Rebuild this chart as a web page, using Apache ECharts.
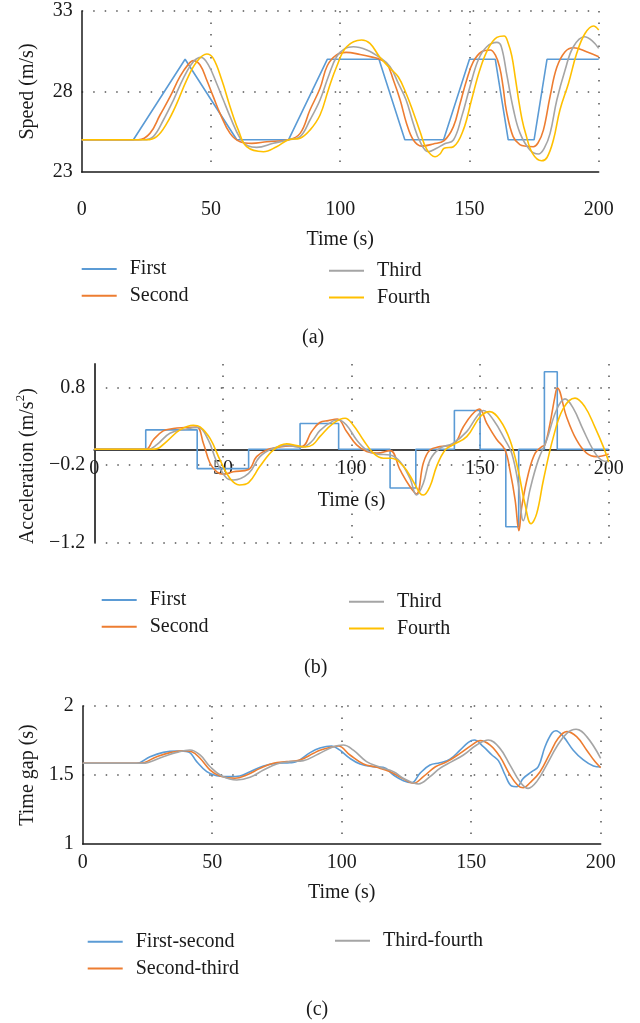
<!DOCTYPE html>
<html>
<head>
<meta charset="utf-8">
<script src="https://cdn.jsdelivr.net/npm/echarts@6/dist/echarts.min.js"></script>
<style>
html,body{margin:0;padding:0;background:#fff;}
#chart{width:640px;height:1023px;}
</style>
</head>
<body>
<div id="chart"></div>
<script>
// ---------- data ----------
const seriesNames = ['First', 'Second', 'Third', 'Fourth'];
const gapNames = ['First-second', 'Second-third', 'Third-fourth'];
const panelLabels = ['(a)', '(b)', '(c)'];
const timeTicks = [0, 50, 100, 150, 200];
const speedTicks = [23, 28, 33];
const accTicks = [-1.2, -0.2, 0.8];
const gapTicks = [1, 1.5, 2];

const speedFirst = [[0,25],[20,25],[40,30],[60,25],[80,25],[95,30],[115,30],[125,25],[140,25],[150,30],[160,30],[165,25],[175,25],[180,30],[200,30]];
const speedSecond = [[0,25],[21.9,25],[26.4,25.4],[30.3,26.54],[34.2,27.68],[38,28.92],[41.3,29.7],[43.2,29.92],[45.8,29.65],[48.4,28.7],[50.9,27.68],[53.5,26.64],[57.4,25.4],[61.3,24.88],[65.8,24.78],[71.6,24.88],[80,25],[84.5,25.4],[88.3,26.85],[92.2,28.2],[95,29.6],[98.6,30.27],[102.3,30.43],[107.7,30.3],[112.8,30.12],[115.2,30.0],[118,29.75],[120.6,28.7],[123.2,27.47],[125.7,26.0],[128.3,24.99],[131.5,24.61],[136,24.74],[140.2,24.95],[143.8,25.82],[146.4,27.27],[148.9,28.7],[151.5,29.85],[154.7,30.47],[158,30.58],[160,30.27],[161.7,29.5],[163,28.3],[164.3,26.8],[166.9,25.2],[169.5,24.7],[172,24.6],[174.7,24.57],[176.5,24.8],[178.6,25.6],[181.2,27.7],[183.8,29.5],[187,30.47],[190.2,30.72],[195.3,30.47],[200,30.16]];
const speedThird = [[0,25],[23.9,25],[27.7,25.2],[31.6,26.23],[35.5,27.47],[39.3,28.82],[43.2,29.85],[46.2,30.12],[49,29.65],[52.2,28.5],[54.8,27.47],[57.4,26.44],[61.3,25.09],[64.5,24.61],[67.7,24.53],[74.1,24.78],[80,25],[84.5,25.2],[88.3,26.23],[92.2,27.47],[95.4,28.92],[98.6,30.16],[101.9,30.68],[105.1,30.78],[110.3,30.58],[115.2,30.12],[119.3,29.54],[122.5,28.5],[125.5,27.47],[128.3,26.0],[130.9,24.88],[134.1,24.26],[137.3,24.47],[140.2,24.74],[143.8,24.99],[147,26.44],[150.2,28.3],[153.4,29.96],[156.7,30.78],[160.6,31.05],[162.3,30.8],[164.5,29.0],[167,26.9],[169.6,25.4],[173.4,24.37],[176.7,24.12],[179,24.5],[181.2,25.4],[183.8,27.47],[187,29.34],[190.2,30.78],[194.5,31.4],[197.5,31.15],[200,30.68]];
const speedFourth = [[0,25],[25.1,25],[29,25.2],[32.9,26.02],[36.8,27.26],[40.6,28.71],[44.5,29.85],[48.4,30.33],[50.9,30.06],[54.2,28.71],[57.4,27.06],[60.6,25.6],[63.8,24.57],[70.3,24.26],[75.4,24.57],[80,25],[84.5,25.1],[88.3,25.6],[92.2,26.54],[95.4,28.1],[98.6,29.54],[102.5,30.78],[108.3,31.2],[111.5,30.99],[115.2,30.16],[119.3,29.44],[122.5,28.9],[125.7,27.8],[128.3,26.7],[130.9,25.5],[133.5,24.4],[136.7,23.95],[138.6,24.12],[140.2,24.47],[143.8,24.57],[147.6,25.6],[150.8,27.47],[154,29.34],[157.3,30.68],[160.6,31.36],[163.4,31.45],[165,31.0],[166.4,30.2],[167.7,28.9],[169,27.5],[170.3,26.3],[171.7,25.4],[174.4,24.16],[177.9,23.7],[180,23.9],[182.5,25.0],[185,26.85],[188.3,28.5],[191.5,30.37],[194.7,31.6],[198,32.07],[200,31.82]];

const accFirst = [[0,0],[20,0],[20,0.25],[40,0.25],[40,-0.25],[60,-0.25],[60,0],[80,0],[80,0.333],[95,0.333],[95,0],[115,0],[115,-0.5],[125,-0.5],[125,0],[140,0],[140,0.5],[150,0.5],[150,0],[160,0],[160,-1],[165,-1],[165,0],[175,0],[175,1],[180,1],[180,0],[200,0]];
const accSecond = [[0,0],[20,0],[22.9,0.12],[26.8,0.237],[30.7,0.267],[35,0.28],[39.8,0.288],[42.4,0.077],[45,-0.18],[47.6,-0.29],[50.2,-0.32],[54,-0.29],[60,-0.26],[63.1,-0.095],[67,-0.01],[70.9,0.02],[76.1,0.043],[80.6,0.034],[84.5,0.228],[87.7,0.345],[91,0.37],[94.5,0.39],[98.1,0.228],[102,0.056],[105.9,-0.03],[109.8,-0.05],[115,-0.017],[118.9,-0.267],[122.7,-0.48],[125.3,-0.576],[127.9,-0.18],[130.5,-0.01],[134.4,0.034],[139.4,0.056],[143.5,0.29],[146.7,0.443],[149.7,0.52],[152.6,0.335],[156.4,0.13],[159.7,-0.01],[161.6,-0.27],[163.6,-0.65],[165.1,-1.05],[166.2,-0.74],[168.8,-0.31],[171.4,-0.05],[174,0.034],[175.2,0.056],[177.2,0.335],[179.1,0.68],[180,0.79],[183.6,0.42],[187.5,0.12],[191.4,-0.05],[195.2,-0.095],[200,-0.06]];
const accThird = [[0,0],[21,0],[24.2,0.056],[29.4,0.206],[35.9,0.262],[40.4,0.28],[44.3,0.12],[47.6,-0.16],[51.5,-0.374],[54,-0.396],[60,-0.31],[64.4,-0.095],[69.6,0.013],[74.8,0.05],[80.6,0.026],[84.5,0.1],[87.7,0.24],[92.9,0.366],[94.9,0.378],[98.1,0.31],[102,0.12],[105.9,-0.01],[109.8,-0.06],[115,-0.073],[118.9,-0.16],[122.7,-0.374],[125.3,-0.59],[127.9,-0.44],[130.5,-0.14],[134.4,0.013],[139.4,0.077],[144.8,0.228],[148.7,0.42],[151.3,0.5],[155.2,0.378],[159.7,0.12],[162.3,-0.05],[164.8,-0.44],[166.8,-0.92],[169.4,-0.52],[172.6,-0.14],[175.9,0.12],[179.7,0.507],[183,0.65],[186.2,0.53],[190.1,0.25],[194,-0.01],[197.2,-0.14],[200,-0.16]];
const accFourth = [[0,0],[22,0],[24.2,0.005],[28.1,0.1],[33.3,0.25],[38.5,0.31],[41.1,0.29],[45,0.14],[48.9,-0.14],[52.7,-0.374],[56.4,-0.46],[60,-0.43],[64.4,-0.22],[69.6,-0.01],[74.8,0.069],[78.7,0.047],[82,0.03],[85,0.06],[87.7,0.163],[92.9,0.335],[97.5,0.40],[100.7,0.31],[104.6,0.12],[108.5,-0.05],[112.4,-0.116],[115.6,-0.116],[120.2,-0.22],[124.1,-0.42],[126.7,-0.57],[128,-0.59],[130.5,-0.48],[133.1,-0.22],[136.4,-0.01],[139.4,0.056],[144.8,0.163],[150,0.42],[153.8,0.486],[157.7,0.378],[161.6,0.12],[164.8,-0.27],[167.4,-0.70],[169.8,-0.96],[172,-0.83],[174.6,-0.40],[178.5,0.16],[182.4,0.53],[186.9,0.66],[190.7,0.55],[194.6,0.29],[197.9,0.034],[200,-0.16]];

const gapFirstSecond = [[0,1.585],[20.8,1.585],[26,1.633],[31.1,1.664],[36.3,1.674],[40.8,1.667],[44,1.597],[47.9,1.524],[51.7,1.495],[56.9,1.488],[60.7,1.493],[64.6,1.524],[69.8,1.565],[74.9,1.585],[80,1.589],[82.6,1.597],[87.8,1.662],[91.6,1.695],[96.1,1.71],[99.3,1.68],[103.2,1.62],[107.1,1.58],[112.1,1.56],[116,1.556],[120,1.5],[123.8,1.459],[127,1.444],[130.2,1.512],[134.1,1.572],[137.9,1.589],[141.8,1.614],[145.7,1.68],[148.9,1.737],[151.2,1.754],[154.7,1.705],[158,1.645],[160.5,1.604],[163.1,1.5],[165.6,1.42],[167.6,1.415],[170.1,1.476],[173.4,1.524],[175.9,1.56],[178.5,1.705],[181.1,1.802],[182.7,1.821],[185.6,1.778],[189.4,1.68],[193.3,1.609],[197.2,1.565],[200,1.558]];
const gapSecondThird = [[0,1.585],[22,1.585],[28.6,1.633],[33.7,1.662],[38.9,1.676],[42.1,1.669],[45.3,1.621],[49.2,1.536],[53,1.493],[58.8,1.476],[63.3,1.5],[68.5,1.548],[73.6,1.585],[78.8,1.597],[83.9,1.609],[89.1,1.657],[91.6,1.68],[96.8,1.705],[98.7,1.71],[103.2,1.645],[108.4,1.58],[113.5,1.556],[118.7,1.524],[123.4,1.476],[127.7,1.44],[131.5,1.488],[136.2,1.56],[140.7,1.597],[145.7,1.657],[150.2,1.717],[153.4,1.749],[157.3,1.717],[161.1,1.633],[165,1.5],[168.2,1.42],[170.1,1.408],[172.7,1.444],[176.6,1.524],[180.4,1.657],[183.6,1.766],[186.9,1.814],[190.7,1.778],[194.6,1.68],[197.8,1.597],[200,1.553]];
const gapThirdFourth = [[0,1.585],[23,1.585],[31.1,1.633],[36.3,1.664],[41.4,1.681],[45.3,1.645],[49.2,1.56],[53.7,1.493],[59.5,1.464],[64.6,1.483],[69.8,1.536],[74.9,1.58],[80,1.597],[85.2,1.604],[91,1.652],[96.8,1.705],[100.6,1.717],[104.5,1.68],[109.6,1.597],[114.8,1.556],[120,1.524],[124.5,1.469],[129.6,1.435],[134.1,1.488],[137.9,1.548],[142.5,1.597],[147,1.645],[152.1,1.717],[156.6,1.754],[161.1,1.693],[165,1.572],[168.8,1.452],[172,1.403],[175.3,1.452],[179.1,1.572],[183,1.705],[186.9,1.802],[190.5,1.831],[194.6,1.778],[200,1.621]];

// ---------- styles ----------
const FONT = 'Liberation Serif';
const TXT = '#1a1a1a';
const COLORS = ['#5B9BD5', '#ED7D31', '#A5A5A5', '#FFC000'];
const dotted = { type: [1.5, 10], color: '#555', width: 1.5 };
const fmt = v => String(v).replace('-', '\u2212');

const grids = [
  { left: 81.7, top: 11, width: 517, height: 161 },
  { left: 94.3, top: 364, width: 514.4, height: 178.3 },
  { left: 82.7, top: 706, width: 518, height: 138 }
];

function xAxis(gi, labelMargin, nameGap, axisColor, axisWidth) {
  return {
    type: 'value', gridIndex: gi, min: 0, max: 200,
    axisLine: { show: true, lineStyle: { color: axisColor, width: axisWidth } },
    axisTick: { show: false, customValues: timeTicks },
    axisLabel: { customValues: timeTicks, margin: labelMargin, fontFamily: FONT, fontSize: 20, color: TXT },
    splitLine: { show: true, showMinLine: false, lineStyle: dotted },
    name: 'Time (s)', nameLocation: 'middle', nameGap: nameGap,
    nameTextStyle: { fontFamily: FONT, fontSize: 20, color: TXT }
  };
}
function yAxis(gi, min, max, ticks, name, nameGap, extra) {
  const ax = {
    type: 'value', gridIndex: gi, min: min, max: max,
    axisLine: { show: true, lineStyle: { color: '#1a1a1a', width: 1.5 } },
    axisTick: { show: false, customValues: ticks },
    axisLabel: { customValues: ticks, margin: 9, fontFamily: FONT, fontSize: 20, color: TXT, formatter: fmt },
    splitLine: { show: true, showMinLine: false, lineStyle: dotted },
    name: name, nameLocation: 'middle', nameGap: nameGap,
    nameTextStyle: { fontFamily: FONT, fontSize: 20, color: TXT }
  };
  return Object.assign(ax, extra || {});
}

const xAxes = [
  xAxis(0, 28, 58, '#1a1a1a', 1.5),
  xAxis(1, -84, -52, '#444', 2),
  xAxis(2, 9, 39, '#1a1a1a', 1.5)
];
const yAxes = [
  yAxis(0, 23, 33, speedTicks, 'Speed (m/s)', 44),
  yAxis(1, -1.2, 1.1, accTicks, '{t|Acceleration (m/s}{s|2}{t|)}', 52, {
    axisLine: { show: true, lineStyle: { color: '#444', width: 2 } },
    splitLine: { show: true, showMinLine: true, lineStyle: dotted },
    nameTextStyle: {
      padding: [0, 26, 0, 0],
      rich: {
        t: { fontFamily: FONT, fontSize: 20, color: TXT, lineHeight: 24, verticalAlign: 'bottom' },
        s: { fontFamily: FONT, fontSize: 13, color: TXT, lineHeight: 24, verticalAlign: 'top', padding: [0, 0, 10, 0] }
      }
    }
  }),
  yAxis(2, 1, 2, gapTicks, 'Time gap (s)', 45)
];

function line(name, data, gi, color, smooth) {
  return {
    type: 'line', name: name, data: data, xAxisIndex: gi, yAxisIndex: gi,
    showSymbol: false, symbol: 'none', smooth: smooth ? 0.4 : false,
    lineStyle: { color: color, width: 1.6 }, itemStyle: { color: color },
    emphasis: { disabled: true }
  };
}

const series = [
  line('First', speedFirst, 0, COLORS[0], false),
  line('Second', speedSecond, 0, COLORS[1], true),
  line('Third', speedThird, 0, COLORS[2], true),
  line('Fourth', speedFourth, 0, COLORS[3], true),
  line('First', accFirst, 1, COLORS[0], false),
  line('Second', accSecond, 1, COLORS[1], true),
  line('Third', accThird, 1, COLORS[2], true),
  line('Fourth', accFourth, 1, COLORS[3], true),
  line(gapNames[0], gapFirstSecond, 2, COLORS[0], true),
  line(gapNames[1], gapSecondThird, 2, COLORS[1], true),
  line(gapNames[2], gapThirdFourth, 2, COLORS[2], true)
];

function legend(names, left, top) {
  return {
    data: names, left: left, top: top, orient: 'vertical', padding: 0,
    itemWidth: 35, itemHeight: 2, itemGap: 6.7, icon: 'rect',
    selectedMode: false,
    textStyle: { fontFamily: FONT, fontSize: 20, color: TXT, lineHeight: 20, padding: [0, 0, 0, 8] }
  };
}
const legends = [
  legend([seriesNames[0], seriesNames[1]], 81.7, 259),
  legend([seriesNames[2], seriesNames[3]], 329, 260.7),
  legend([seriesNames[0], seriesNames[1]], 101.7, 590),
  legend([seriesNames[2], seriesNames[3]], 349, 591.7),
  legend([gapNames[0], gapNames[1]], 87.7, 931.7),
  legend([gapNames[2]], 335, 930.7)
];

const titles = [
  { text: panelLabels[0], left: 302, top: 328 },
  { text: panelLabels[1], left: 304, top: 658 },
  { text: panelLabels[2], left: 306, top: 1000 }
].map(t => Object.assign(t, { padding: 0, textStyle: { fontFamily: FONT, fontSize: 20, fontWeight: 'normal', color: TXT } }));

const chart = echarts.init(document.getElementById('chart'), null, { renderer: 'canvas' });
chart.setOption({
  animation: false,
  backgroundColor: '#fff',
  title: titles,
  legend: legends,
  grid: grids,
  xAxis: xAxes,
  yAxis: yAxes,
  series: series
});
</script>
</body>
</html>
